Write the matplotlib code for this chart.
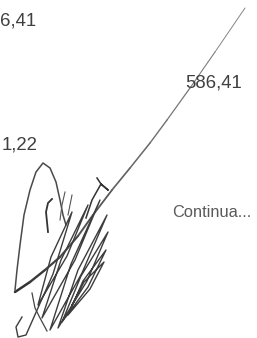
import matplotlib.pyplot as plt

# testi (valori e posizioni in pixel dell'immagine)
labels = ['6,41', '586,41', '1,22']
label_x = [0, 185, 2]
label_y = [25, 88, 149]
note = 'Continua...'

# tratto lungo della firma (dal basso a sinistra verso l'alto a destra)
line_x = [15, 30, 45, 60, 78, 93, 112, 130, 150, 167, 190, 215, 245]
line_y = [292, 282, 270, 257, 236, 215, 190, 168, 143, 120, 88, 52, 8]

# arco a sinistra
hump_x = [15, 17, 20, 24, 30, 36, 43, 50, 56, 60, 63, 66]
hump_y = [290, 270, 245, 215, 190, 172, 163, 168, 182, 200, 215, 225]

# riccioli della firma
scrib_x = [22, 16, 18, 26, 53, 72, 51, 38, 67, 88, 61, 42, 75, 100, 71, 50, 82, 107,
           78, 58, 87, 108, 81, 62, 88, 106, 83, 68, 90, 104, 84, 72]
scrib_y = [317, 327, 337, 335, 274, 212, 257, 305, 256, 205, 260, 318, 260, 200, 264,
           330, 273, 215, 270, 328, 281, 232, 276, 322, 287, 250, 281, 315, 289, 262,
           282, 305]

curl2_x = [32, 35, 40, 47]
curl2_y = [293, 308, 318, 331]
hook_x = [52, 48, 46, 47, 48]
hook_y = [199, 203, 212, 222, 232]
blob_x = [97, 101, 108, 101, 92, 86]
blob_y = [178, 184, 190, 184, 200, 218]
ticks_x = [65, 62, 60, 72, 70, 68]
ticks_y = [192, 205, 220, 195, 205, 215]

fig = plt.figure(figsize=(2.57, 3.38), dpi=100)
ax = fig.add_axes([0, 0, 1, 1])
ax.set_xlim(0, 257)
ax.set_ylim(338, 0)
ax.axis('off')

for t, x, y in zip(labels, label_x, label_y):
    ax.text(x, y, t, fontsize=13.4, color='#404040', family='Liberation Sans', va='baseline')
ax.text(172, 217, note, fontsize=11.8, color='#5a5a5a', family='Liberation Sans', va='baseline')

# tratto lungo, piu' sottile e chiaro verso l'alto
n = len(line_x) - 1
for i in range(n):
    f = i / n
    ax.plot(line_x[i:i + 2], line_y[i:i + 2], color=(0.2 + 0.35 * f,) * 3,
            lw=1.8 - 1.2 * f, solid_capstyle='round')

ax.plot(hump_x, hump_y, color='#4a4a4a', lw=1.1)
ax.plot(scrib_x, scrib_y, color='#3d3d3d', lw=1.0)
ax.plot(curl2_x, curl2_y, color='#444444', lw=0.9)
ax.plot(hook_x, hook_y, color='#333333', lw=1.3)
ax.plot(blob_x, blob_y, color='#333333', lw=1.1)
ax.plot(ticks_x[:3], ticks_y[:3], color='#555555', lw=0.8)
ax.plot(ticks_x[3:], ticks_y[3:], color='#555555', lw=0.8)

fig.savefig('out.png', dpi=100, facecolor='white')
